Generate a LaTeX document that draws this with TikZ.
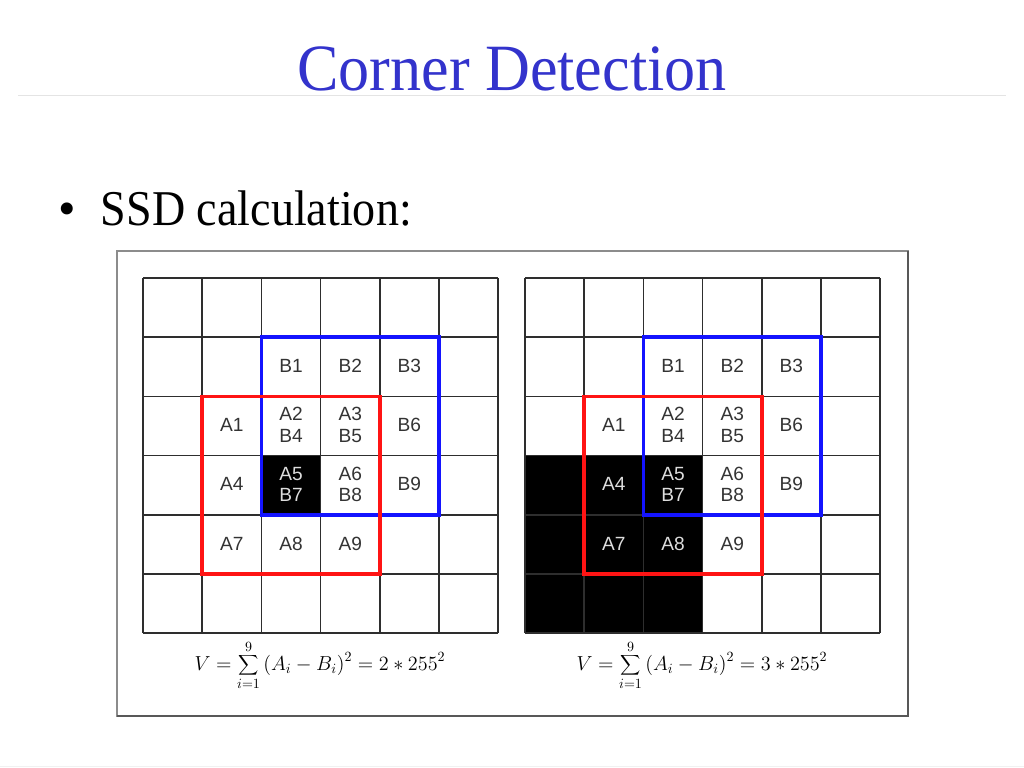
\documentclass[tikz,border=0pt]{standalone}
\usepackage{fontspec}
\setmainfont{Liberation Serif}
\setsansfont{Liberation Sans}
\usetikzlibrary{positioning}
\definecolor{titleblue}{HTML}{3333CC}
\definecolor{gridgray}{HTML}{2E2E2E}
\definecolor{framegray}{HTML}{8C8C8C}
\definecolor{rulegray}{HTML}{E4E4E4}
\definecolor{winred}{HTML}{FF1414}
\definecolor{winblue}{HTML}{1414FF}
\definecolor{celltext}{HTML}{333333}
\definecolor{darktext}{HTML}{DDDDDD}
\newcommand\pairtxt[2]{\strut#1\\\strut#2}
\tikzset{
  title/.style={font=\fontsize{47}{50}\selectfont,text=titleblue,anchor=base},
  bullet/.style={font=\fontsize{35.6}{40}\selectfont,anchor=base west},
  cell/.style={font=\sffamily\fontsize{13.6}{15.6}\selectfont,align=center,inner sep=0pt},
  gridline/.style={draw=gridgray,line width=1.1pt},
  redwin/.style={draw=winred,line width=2.5pt},
  bluewin/.style={draw=winblue,line width=2.5pt},
  formula/.style={font=\fontsize{13.8}{16}\selectfont}
}
\begin{document}
\begin{tikzpicture}[x=0.025cm,y=-0.025cm]
\useasboundingbox (0,0) rectangle (1024,768);
\node[title] (ttl) at (512,91) {\scalebox{0.94}[1]{Corner Detection}};
\draw[rulegray,line width=0.7pt] (18,95)--(1006,95);
\draw[rulegray!50,line width=0.7pt] (0,766)--(1024,766);
\node[bullet] (blt) at (54,225) {\textbullet};
\node[bullet] (ssd) at (96,225) {\scalebox{0.92}[1]{SSD calculation:}};

% frame
\draw[framegray,line width=1.1pt] (117,251) rectangle (908,716);
\draw[gridgray!80,line width=1.3pt] (117,716)--(908,716)--(908,251);

% the two grids: x origin / name / dark block cmin,cmax,rmin,rmax / sum
\foreach \gx/\gn/\cmin/\cmax/\rmin/\rmax/\res in {143/L/2/2/3/3/2,525/R/0/2/3/5/3}{
  \fill[black] (\gx+\cmin*59.2,278+\rmin*59.2) rectangle (\gx+\cmax*59.2+59.2,278+\rmax*59.2+59.2);
  \foreach \i in {0,...,6}{
    \draw[gridline] (\gx+\i*59.2,278)--(\gx+\i*59.2,633.2);
    \draw[gridline] (\gx,278+\i*59.2)--(\gx+355.2,278+\i*59.2);
  }
  \draw[bluewin] (\gx+118.4,337.2) rectangle ++(177.6,177.6);
  \draw[redwin] (\gx+59.2,396.4) rectangle ++(177.6,177.6);
  \foreach \c/\r/\txt in {2/1/B1,3/1/B2,4/1/B3,1/2/A1,2/2/{\pairtxt{A2}{B4}},3/2/{\pairtxt{A3}{B5}},4/2/B6,
                          1/3/A4,2/3/{\pairtxt{A5}{B7}},3/3/{\pairtxt{A6}{B8}},4/3/B9,1/4/A7,2/4/A8,3/4/A9}{
    \pgfmathtruncatemacro\dk{and(and(\c>=\cmin,\c<=\cmax),and(\r>=\rmin,\r<=\rmax))}
    \ifnum\dk=1 \def\tc{darktext}\else\def\tc{celltext}\fi
    \node[cell,text=\tc] (\gn-\c-\r) at (\gx+\c*59.2+29.6,278+\r*59.2+31) {\strut\txt};
  }
  \node[formula] (sum\gn) at (\gx+177,665) {$\displaystyle V=\sum_{i=1}^{9}\,(A_i-B_i)^2=\res*255^2$};
}
\end{tikzpicture}
\end{document}
